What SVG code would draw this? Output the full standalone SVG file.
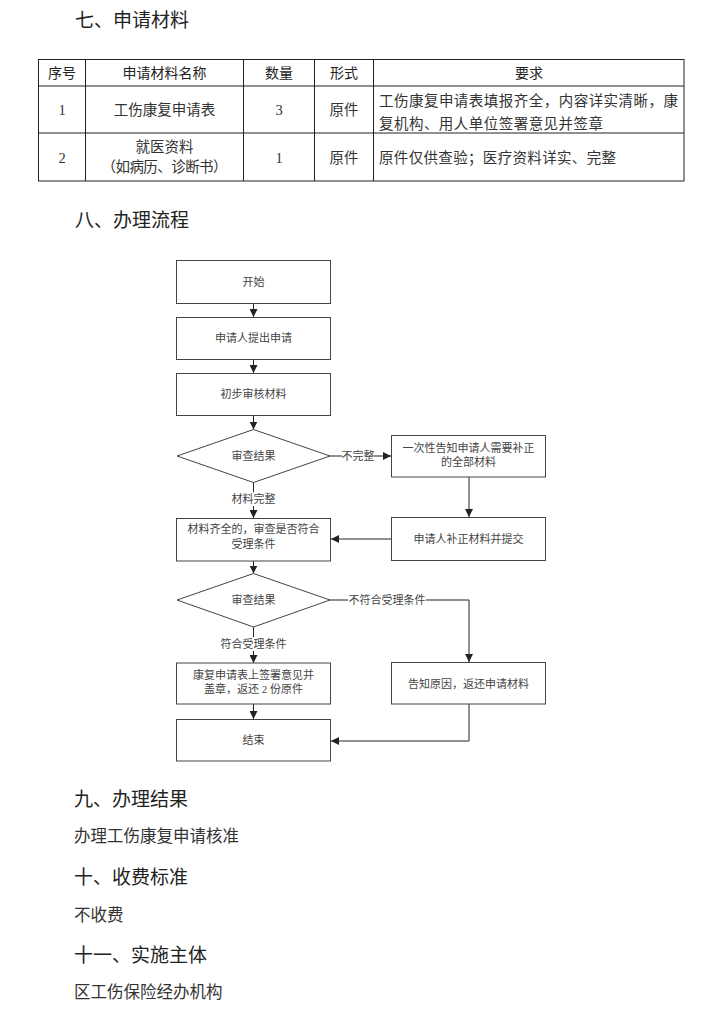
<svg xmlns="http://www.w3.org/2000/svg" width="702" height="1018" viewBox="0 0 702 1018">
<defs>
<marker id="ah" viewBox="0 0 10 10" refX="10" refY="5" markerWidth="8" markerHeight="8" markerUnits="userSpaceOnUse" orient="auto">
<path d="M0,0 L10,5 L0,10 z" fill="#222"/>
</marker>
<style>
.h{font-family:"Noto Sans CJK SC","Noto Sans",sans-serif;font-size:19px;fill:#222}
.p{font-family:"Noto Sans CJK SC","Noto Sans",sans-serif;font-size:16.5px;fill:#333}
.th{font-family:"Noto Sans CJK SC","Noto Sans",sans-serif;font-size:14px;fill:#222;text-anchor:middle}
.td{font-family:"Liberation Serif","Noto Sans CJK SC",serif;font-size:14.5px;fill:#333;text-anchor:middle}
.tl{font-family:"Liberation Serif","Noto Sans CJK SC",serif;font-size:14.5px;fill:#333}
.grid{stroke:#222;stroke-width:1;fill:none}
.box{fill:#fff;stroke:#444;stroke-width:1}
.ft{font-family:"Liberation Serif","Noto Sans CJK SC",serif;font-size:11px;fill:#444;text-anchor:middle}
.ln{stroke:#222;stroke-width:1;fill:none}
.lb{fill:#fff}
</style>
</defs>
<rect width="702" height="1018" fill="#fff"/>

<text class="h" x="75" y="27">七、申请材料</text>

<g id="table">
<rect class="grid" x="38.5" y="59.5" width="645.5" height="121.5"/>
<line class="grid" x1="38.5" y1="86" x2="684" y2="86"/>
<line class="grid" x1="38.5" y1="133" x2="684" y2="133"/>
<line class="grid" x1="85.5" y1="59.5" x2="85.5" y2="181"/>
<line class="grid" x1="243.5" y1="59.5" x2="243.5" y2="181"/>
<line class="grid" x1="314.5" y1="59.5" x2="314.5" y2="181"/>
<line class="grid" x1="373.5" y1="59.5" x2="373.5" y2="181"/>
<text class="th" x="62" y="78">序号</text>
<text class="th" x="164.5" y="78">申请材料名称</text>
<text class="th" x="279" y="78">数量</text>
<text class="th" x="344" y="78">形式</text>
<text class="th" x="529" y="78">要求</text>
<text class="td" x="62" y="115">1</text>
<text class="td" x="164.5" y="115">工伤康复申请表</text>
<text class="td" x="279" y="115">3</text>
<text class="td" x="344" y="115">原件</text>
<text class="tl" x="379" y="106" textLength="299" lengthAdjust="spacing">工伤康复申请表填报齐全，内容详实清晰，康</text>
<text class="tl" x="379" y="129" textLength="224" lengthAdjust="spacing">复机构、用人单位签署意见并签章</text>
<text class="td" x="62" y="163">2</text>
<text class="td" x="164.5" y="152">就医资料</text>
<text class="td" x="164.5" y="172" textLength="126" lengthAdjust="spacing">（如病历、诊断书）</text>
<text class="td" x="279" y="163">1</text>
<text class="td" x="344" y="163">原件</text>
<text class="tl" x="379" y="163" textLength="237" lengthAdjust="spacing">原件仅供查验；医疗资料详实、完整</text>
</g>

<text class="h" x="75" y="227">八、办理流程</text>

<g id="connectors">
<line class="ln" x1="253.5" y1="303" x2="253.5" y2="317" marker-end="url(#ah)"/>
<line class="ln" x1="253.5" y1="359" x2="253.5" y2="373" marker-end="url(#ah)"/>
<line class="ln" x1="253.5" y1="415" x2="253.5" y2="429.5" marker-end="url(#ah)"/>
<line class="ln" x1="330" y1="456" x2="391" y2="456" marker-end="url(#ah)"/>
<rect class="lb" x="342" y="449" width="32" height="14"/>
<text class="ft" x="358" y="460">不完整</text>
<line class="ln" x1="253.5" y1="482.5" x2="253.5" y2="518" marker-end="url(#ah)"/>
<rect class="lb" x="230" y="492" width="47" height="14"/>
<text class="ft" x="253.5" y="503">材料完整</text>
<line class="ln" x1="469" y1="477" x2="469" y2="517" marker-end="url(#ah)"/>
<line class="ln" x1="391" y1="539" x2="331" y2="539" marker-end="url(#ah)"/>
<line class="ln" x1="253.5" y1="561" x2="253.5" y2="573.5" marker-end="url(#ah)"/>
<polyline class="ln" points="330,600 469,600 469,662" marker-end="url(#ah)"/>
<rect class="lb" x="348" y="593" width="78" height="14"/>
<text class="ft" x="387" y="604">不符合受理条件</text>
<line class="ln" x1="253.5" y1="627" x2="253.5" y2="663" marker-end="url(#ah)"/>
<rect class="lb" x="220" y="637" width="67" height="14"/>
<text class="ft" x="253.5" y="648">符合受理条件</text>
<line class="ln" x1="253.5" y1="704" x2="253.5" y2="719" marker-end="url(#ah)"/>
<polyline class="ln" points="469,704 469,741 331,741" marker-end="url(#ah)"/>
</g>

<g id="n-start"><rect class="box" x="176.5" y="260.5" width="154" height="43"/><text class="ft" x="253.5" y="286">开始</text></g>
<g id="n-apply"><rect class="box" x="176.5" y="317.5" width="154" height="42"/><text class="ft" x="253.5" y="342">申请人提出申请</text></g>
<g id="n-check"><rect class="box" x="176.5" y="373.5" width="154" height="42"/><text class="ft" x="253.5" y="398">初步审核材料</text></g>
<g id="n-dec1"><polygon class="box" points="253.5,429.5 330,456 253.5,482.5 177,456"/><text class="ft" x="253.5" y="460">审查结果</text></g>
<g id="n-notify"><rect class="box" x="391.5" y="435.5" width="154" height="41.5"/><text class="ft" x="468.5" y="452">一次性告知申请人需要补正</text><text class="ft" x="468.5" y="466">的全部材料</text></g>
<g id="n-resubmit"><rect class="box" x="391.5" y="517.5" width="154" height="43"/><text class="ft" x="468.5" y="543">申请人补正材料并提交</text></g>
<g id="n-complete"><rect class="box" x="176.5" y="518.5" width="154" height="42.5"/><text class="ft" x="253.5" y="533">材料齐全的，审查是否符合</text><text class="ft" x="253.5" y="548">受理条件</text></g>
<g id="n-dec2"><polygon class="box" points="253.5,573.5 330,600 253.5,627 177,600"/><text class="ft" x="253.5" y="604">审查结果</text></g>
<g id="n-sign"><rect class="box" x="176.5" y="663" width="154" height="41"/><text class="ft" x="253.5" y="679">康复申请表上签署意见并</text><text class="ft" x="253.5" y="693">盖章，返还 2 份原件</text></g>
<g id="n-reject"><rect class="box" x="391.5" y="662.5" width="154" height="41.5"/><text class="ft" x="468.5" y="688">告知原因，返还申请材料</text></g>
<g id="n-end"><rect class="box" x="176.5" y="719.5" width="154" height="41.5"/><text class="ft" x="253.5" y="744">结束</text></g>

<text class="h" x="74" y="806">九、办理结果</text>
<text class="p" x="74" y="842">办理工伤康复申请核准</text>
<text class="h" x="74" y="884">十、收费标准</text>
<text class="p" x="74" y="921">不收费</text>
<text class="h" x="74" y="962">十一、实施主体</text>
<text class="p" x="74" y="998">区工伤保险经办机构</text>
</svg>
